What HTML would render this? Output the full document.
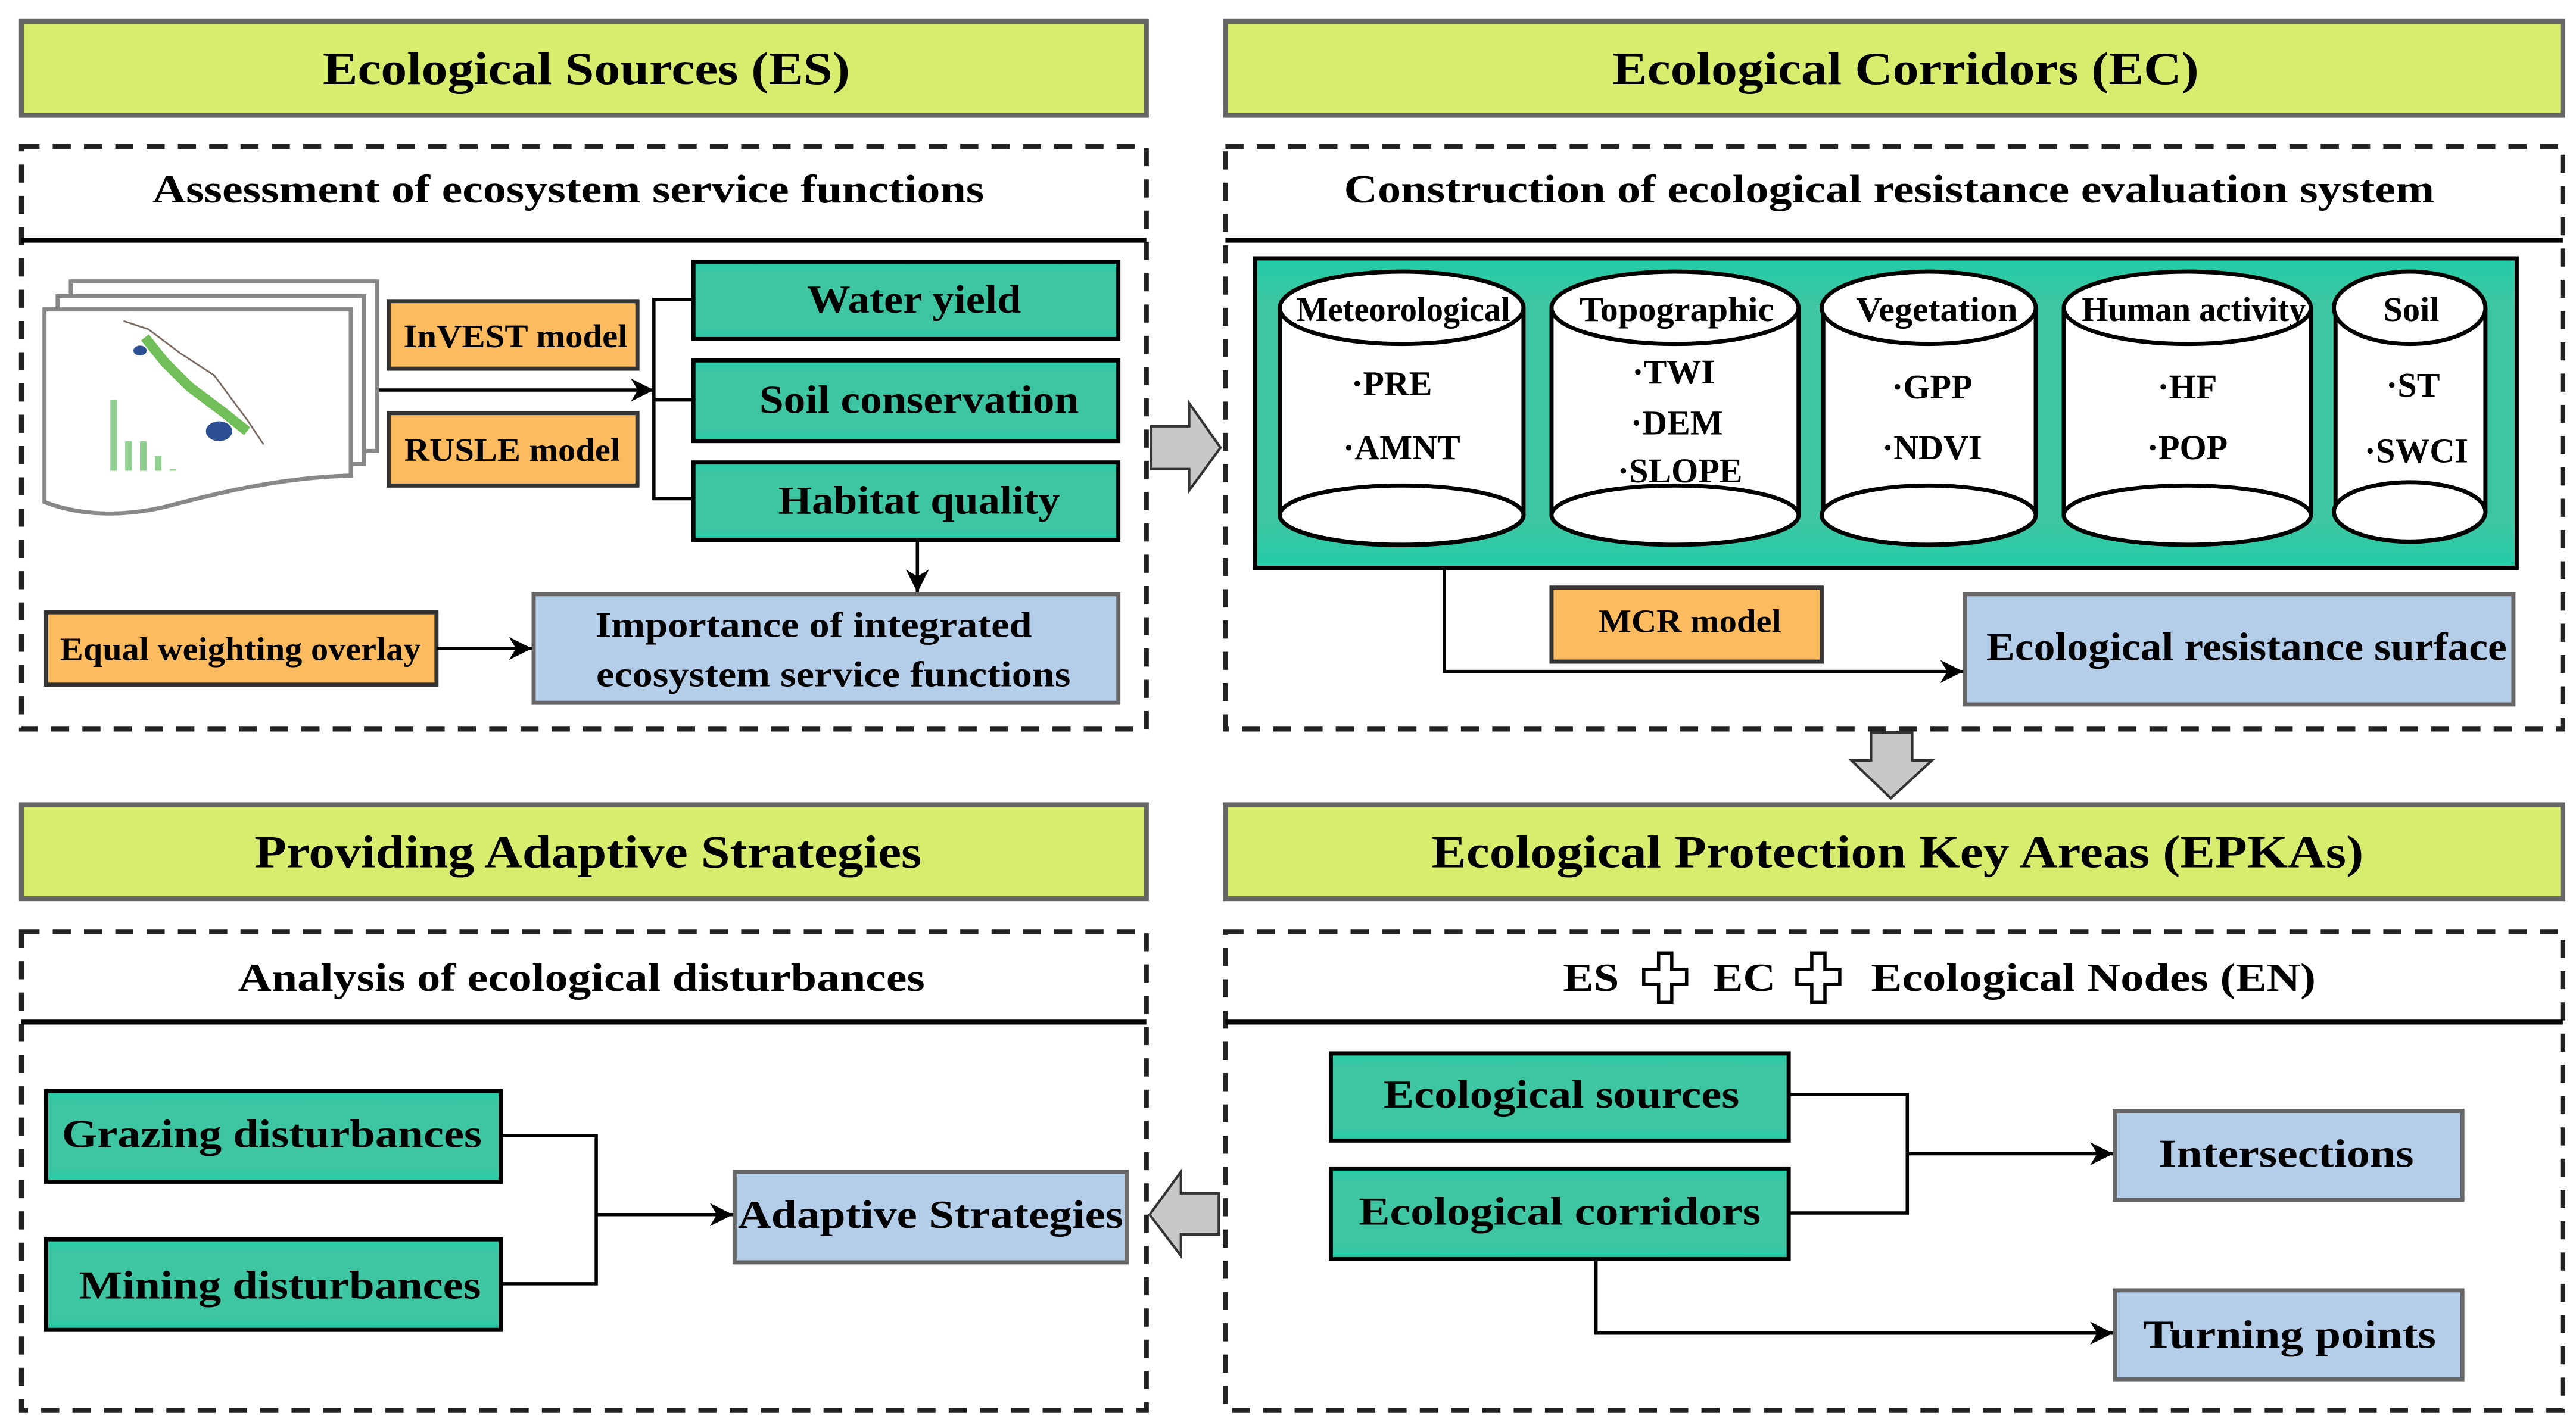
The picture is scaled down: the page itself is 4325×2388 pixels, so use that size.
<!DOCTYPE html>
<html><head><meta charset="utf-8"><style>
html,body{margin:0;padding:0;background:#fff;}
svg{display:block;}
text{font-family:"Liberation Serif",serif;font-weight:bold;fill:#000;}
</style></head><body>
<svg width="4325" height="2388" viewBox="0 0 1564 864" preserveAspectRatio="none" xmlns="http://www.w3.org/2000/svg">
<defs>
<marker id="ar" viewBox="0 0 10 10" refX="10" refY="5" markerWidth="14" markerHeight="14" markerUnits="userSpaceOnUse" orient="auto">
<path d="M0,0 L10,5 L0,10 L3,5 z" fill="#000"/></marker>
<linearGradient id="tg" x1="0" y1="0" x2="0" y2="1">
<stop offset="0" stop-color="#22cca8"/><stop offset="0.15" stop-color="#3ec6a2"/><stop offset="0.85" stop-color="#3ec6a2"/><stop offset="1" stop-color="#22cca8"/></linearGradient>
</defs>

<g fill="#d7ed6e" stroke="#666" stroke-width="3">
<rect x="13" y="13" width="683" height="57"/>
<rect x="744" y="13" width="812" height="57"/>
<rect x="13" y="489" width="683" height="57"/>
<rect x="744" y="489" width="812" height="57"/>
</g>
<g font-size="28" text-anchor="middle">
<text x="356" y="51" textLength="320" lengthAdjust="spacingAndGlyphs">Ecological Sources (ES)</text>
<text x="1157" y="51" textLength="356" lengthAdjust="spacingAndGlyphs">Ecological Corridors (EC)</text>
<text x="357" y="527" textLength="405" lengthAdjust="spacingAndGlyphs">Providing Adaptive Strategies</text>
<text x="1152" y="527" textLength="566" lengthAdjust="spacingAndGlyphs">Ecological Protection Key Areas (EPKAs)</text>
</g>

<g fill="none" stroke="#222" stroke-width="3" stroke-dasharray="11,8">
<rect x="13" y="89" width="683" height="354"/>
<rect x="744" y="89" width="812" height="354"/>
<rect x="13" y="566" width="683" height="291"/>
<rect x="744" y="566" width="812" height="291"/>
</g>
<g stroke="#000" stroke-width="3">
<line x1="13" y1="146" x2="696" y2="146"/>
<line x1="744" y1="146" x2="1556" y2="146"/>
<line x1="13" y1="621" x2="696" y2="621"/>
<line x1="744" y1="621" x2="1556" y2="621"/>
</g>
<g font-size="24" text-anchor="middle">
<text x="345" y="123" textLength="505" lengthAdjust="spacingAndGlyphs">Assessment of ecosystem service functions</text>
<text x="1147" y="123" textLength="662" lengthAdjust="spacingAndGlyphs">Construction of ecological resistance evaluation system</text>
<text x="353" y="602" textLength="417" lengthAdjust="spacingAndGlyphs">Analysis of ecological disturbances</text>
<text x="966" y="602" textLength="34" lengthAdjust="spacingAndGlyphs">ES</text>
<text x="1059" y="602" textLength="38" lengthAdjust="spacingAndGlyphs">EC</text>
<text x="1271" y="602" textLength="270" lengthAdjust="spacingAndGlyphs">Ecological Nodes (EN)</text>
</g>
<g fill="#fff" stroke="#000" stroke-width="2">
<path d="M1007,579 h8 v10 h9 v9 h-9 v11 h-8 v-11 h-9 v-9 h9 z"/>
<path d="M1100,579 h8 v10 h9 v9 h-9 v11 h-8 v-11 h-9 v-9 h9 z"/>
</g>

<g fill="#fff" stroke="#888" stroke-width="2.5">
<rect x="43" y="171" width="186" height="103"/>
<rect x="35" y="180" width="186" height="102"/>
<path d="M27,188 H213 V289 C170,290 130,300 100,308 C70,315 45,312 27,305 Z"/>
</g>
<path d="M75,195 L90,200 L110,215 L130,228 L150,255 L160,270" stroke="#7a6a60" stroke-width="1" fill="none"/>
<path d="M88,205 L100,220 L115,235 L135,250 L150,262" stroke="#4caf30" stroke-width="6" fill="none" opacity="0.8"/>
<ellipse cx="133" cy="262" rx="8" ry="6" fill="#2c4e92"/>
<ellipse cx="85" cy="213" rx="4" ry="3" fill="#2c4e92"/>
<g fill="#8fcf8f"><rect x="67" y="243" width="4" height="43"/><rect x="76" y="268" width="4" height="18"/><rect x="85" y="268" width="4" height="18"/><rect x="94" y="277" width="4" height="9"/><rect x="103" y="285" width="4" height="1"/></g>

<g fill="#fdbb5f" stroke="#333" stroke-width="2.5">
<rect x="236" y="183" width="151" height="41"/>
<rect x="236" y="251" width="151" height="44"/>
<rect x="28" y="372" width="237" height="44"/>
<rect x="942" y="357" width="164" height="45"/>
</g>
<g font-size="20" text-anchor="middle">
<text x="313" y="211" textLength="136" lengthAdjust="spacingAndGlyphs">InVEST model</text>
<text x="311" y="280" textLength="131" lengthAdjust="spacingAndGlyphs">RUSLE model</text>
<text x="146" y="401" textLength="219" lengthAdjust="spacingAndGlyphs">Equal weighting overlay</text>
<text x="1026" y="384" textLength="111" lengthAdjust="spacingAndGlyphs">MCR model</text>
</g>

<g fill="url(#tg)" stroke="#000" stroke-width="2.5">
<rect x="421" y="159" width="258" height="47"/>
<rect x="421" y="219" width="258" height="49"/>
<rect x="421" y="281" width="258" height="47"/>
<rect x="28" y="663" width="276" height="55"/>
<rect x="28" y="753" width="276" height="55"/>
<rect x="808" y="640" width="278" height="53"/>
<rect x="808" y="710" width="278" height="55"/>
</g>
<g font-size="24" text-anchor="middle">
<text x="555" y="190" textLength="130" lengthAdjust="spacingAndGlyphs">Water yield</text>
<text x="558" y="251" textLength="194" lengthAdjust="spacingAndGlyphs">Soil conservation</text>
<text x="558" y="312" textLength="171" lengthAdjust="spacingAndGlyphs">Habitat quality</text>
<text x="165" y="697" textLength="255" lengthAdjust="spacingAndGlyphs">Grazing disturbances</text>
<text x="170" y="789" textLength="244" lengthAdjust="spacingAndGlyphs">Mining disturbances</text>
<text x="948" y="673" textLength="216" lengthAdjust="spacingAndGlyphs">Ecological sources</text>
<text x="947" y="744" textLength="244" lengthAdjust="spacingAndGlyphs">Ecological corridors</text>
</g>

<g fill="#b4cde9" stroke="#666" stroke-width="2.5">
<rect x="324" y="361" width="355" height="66"/>
<rect x="1193" y="361" width="333" height="67"/>
<rect x="446" y="712" width="238" height="55"/>
<rect x="1284" y="675" width="211" height="54"/>
<rect x="1284" y="784" width="211" height="54"/>
</g>
<g font-size="22" text-anchor="middle">
<text x="494" y="387" textLength="265" lengthAdjust="spacingAndGlyphs">Importance of integrated</text>
<text x="506" y="417" textLength="288" lengthAdjust="spacingAndGlyphs">ecosystem service functions</text>
<text x="1364" y="401" font-size="24" textLength="316" lengthAdjust="spacingAndGlyphs">Ecological resistance surface</text>
<text x="565" y="746" font-size="24" textLength="234" lengthAdjust="spacingAndGlyphs">Adaptive Strategies</text>
<text x="1388" y="709" font-size="24" textLength="155" lengthAdjust="spacingAndGlyphs">Intersections</text>
<text x="1390" y="819" font-size="24" textLength="178" lengthAdjust="spacingAndGlyphs">Turning points</text>
</g>

<g stroke="#000" stroke-width="2" fill="none">
<path d="M421,182 H397 V303 H421"/>
<line x1="397" y1="243" x2="421" y2="243"/>
<line x1="230" y1="237" x2="397" y2="237" marker-end="url(#ar)"/>
<line x1="557" y1="328" x2="557" y2="360" marker-end="url(#ar)"/>
<line x1="265" y1="394" x2="323" y2="394" marker-end="url(#ar)"/>
<path d="M877,345 V408 H1192" marker-end="url(#ar)"/>
<path d="M304,690 H362 V780 H304"/>
<line x1="362" y1="738" x2="445" y2="738" marker-end="url(#ar)"/>
<path d="M1086,665 H1158 V737 H1086"/>
<line x1="1158" y1="701" x2="1283" y2="701" marker-end="url(#ar)"/>
<path d="M969,765 V810 H1283" marker-end="url(#ar)"/>
</g>

<g fill="#c8c8c8" stroke="#333" stroke-width="1.5">
<path d="M699,259 H722 V245 L741,272 L722,298 V285 H699 Z"/>
<path d="M1136,445 H1161 V462 H1173 L1148,485 L1124,462 H1136 Z"/>
<path d="M740,725 H717 V712 L698,738 L717,763 V750 H740 Z"/>
</g>

<rect x="762" y="157" width="766" height="188" fill="url(#tg)" stroke="#000" stroke-width="2.5"/>
<g fill="#fff" stroke="#000" stroke-width="2.5">
<path d="M777,187 V313 A73,18 0 0 0 925,313 V187"/>
<ellipse cx="851" cy="313" rx="74" ry="18"/>
<ellipse cx="851" cy="187" rx="74" ry="22"/>
<path d="M942,187 V313 A75,18 0 0 0 1092,313 V187"/>
<ellipse cx="1017" cy="313" rx="75" ry="18"/>
<ellipse cx="1017" cy="187" rx="75" ry="22"/>
<path d="M1107,187 V313 A64,18 0 0 0 1236,313 V187"/>
<ellipse cx="1171" cy="313" rx="65" ry="18"/>
<ellipse cx="1171" cy="187" rx="65" ry="22"/>
<path d="M1253,187 V313 A75,18 0 0 0 1403,313 V187"/>
<ellipse cx="1328" cy="313" rx="75" ry="18"/>
<ellipse cx="1328" cy="187" rx="75" ry="22"/>
<path d="M1418,187 V311 A45,18 0 0 0 1509,311 V187"/>
<ellipse cx="1463" cy="311" rx="46" ry="18"/>
<ellipse cx="1463" cy="187" rx="46" ry="22"/>
</g>
<g font-size="21" text-anchor="middle">
<text x="852" y="195" textLength="130" lengthAdjust="spacingAndGlyphs">Meteorological</text>
<text x="1018" y="195" textLength="118" lengthAdjust="spacingAndGlyphs">Topographic</text>
<text x="1176" y="195" textLength="98" lengthAdjust="spacingAndGlyphs">Vegetation</text>
<text x="1332" y="195" textLength="136" lengthAdjust="spacingAndGlyphs">Human activity</text>
<text x="1464" y="195" textLength="34" lengthAdjust="spacingAndGlyphs">Soil</text>
<text x="845" y="240">·PRE</text>
<text x="851" y="279">·AMNT</text>
<text x="1016" y="233">·TWI</text>
<text x="1018" y="264">·DEM</text>
<text x="1020" y="293">·SLOPE</text>
<text x="1173" y="242">·GPP</text>
<text x="1173" y="279">·NDVI</text>
<text x="1328" y="242">·HF</text>
<text x="1328" y="279">·POP</text>
<text x="1465" y="241">·ST</text>
<text x="1467" y="281">·SWCI</text>
</g>
</svg>
</body></html>
